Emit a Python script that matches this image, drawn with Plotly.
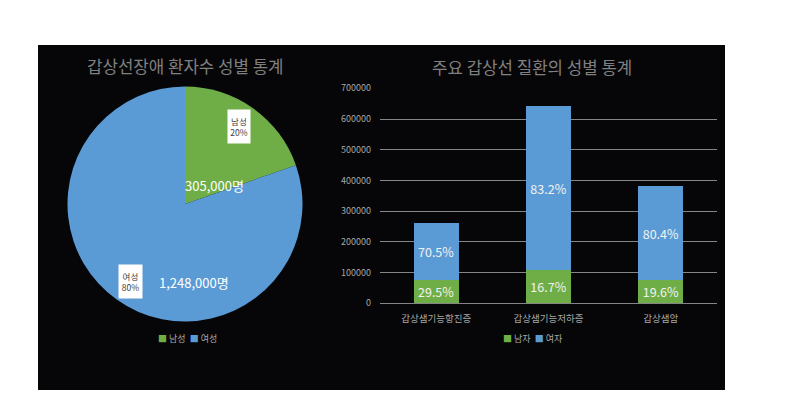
import plotly.graph_objects as go

# pie: patients with thyroid disorder by sex
pie_labels = ["남성", "여성"]
pie_values = [305000, 1248000]

# stacked bars: major thyroid diseases by sex
diseases = ["갑상샘기능항진증", "갑상샘기능저하증", "갑상샘암"]
bar_names = ["남자", "여자"]
male = [77300, 107400, 75000]
female = [184700, 535600, 307000]
male_pct = [29.5, 16.7, 19.6]
female_pct = [70.5, 83.2, 80.4]

GREEN = "#6fae47"
BLUE = "#5b9bd5"
GRID = "#858585"
FONT = "Noto Sans CJK KR"

W, H = 800, 414
OFF = 8  # page body margin in the browser


def px(x):
    return (x - OFF) / W


def py(y):
    return 1 - (y - OFF) / H


def ann(text, x, y, size, color, **kw):
    return dict(text=text, x=px(x), y=py(y), xref="paper", yref="paper",
                xanchor="center", yanchor="middle", showarrow=False,
                font=dict(size=size, color=color, family=FONT), **kw)


fig = go.Figure()

fig.add_trace(go.Pie(
    labels=pie_labels, values=pie_values,
    marker=dict(colors=[GREEN, BLUE], line=dict(width=0)),
    sort=False, direction="clockwise", rotation=0,
    textinfo="none", hoverinfo="label+value+percent",
    domain=dict(x=[px(67.5), px(302.5)], y=[py(321.5), py(86.5)]),
))

for vals, pcts, name, color in [(male, male_pct, bar_names[0], GREEN),
                                (female, female_pct, bar_names[1], BLUE)]:
    fig.add_trace(go.Bar(
        x=diseases, y=vals, name=name, marker=dict(color=color, line=dict(width=0)),
        text=[f"{p}%" for p in pcts], textposition="inside", insidetextanchor="middle",
        constraintext="none", textangle=0,
        textfont=dict(color="#f2f2f2", size=12.5, family=FONT),
    ))

total = sum(pie_values)


def legend_text(names, colors):
    parts = [f"<span style='color:{c}'>■</span> {n}" for n, c in zip(names, colors)]
    return "  ".join(parts)


annotations = [
    ann("갑상선장애 환자수 성별 통계", 185, 66, 16.8, "#808080"),
    ann("주요 갑상선 질환의 성별 통계", 532, 67, 16.8, "#808080"),
    # value labels on the pie
    ann(f"{pie_values[0]:,}명", 215, 185, 13, "#ffffff"),
    ann(f"{pie_values[1]:,}명", 194, 282, 13, "#ffffff"),
    # callout boxes
    ann(f"{pie_labels[0]}<br>{pie_values[0] / total:.0%}", 238.5, 126.5, 8.5, "#404040",
        bgcolor="#ffffff", borderpad=2, width=18, height=29),
    ann(f"{pie_labels[1]}<br>{pie_values[1] / total:.0%}", 130.5, 281, 8.5, "#404040",
        bgcolor="#ffffff", borderpad=2, width=19, height=29),
    # legends
    ann(legend_text(pie_labels, [GREEN, BLUE]), 187, 338, 9, "#a6a6a6"),
    ann(legend_text(bar_names, [GREEN, BLUE]), 533, 338, 9, "#a6a6a6"),
]

fig.update_layout(
    width=W, height=H,
    margin=dict(l=0, r=0, t=0, b=0),
    paper_bgcolor="#ffffff", plot_bgcolor="rgba(0,0,0,0)",
    font=dict(family=FONT, color="#a6a6a6"),
    barmode="stack", bargap=0.6,
    showlegend=False,
    shapes=[dict(type="rect", xref="paper", yref="paper", x0=px(38), x1=px(725),
                 y0=py(390), y1=py(45), fillcolor="#060608", line=dict(width=0), layer="below")],
    xaxis=dict(domain=[px(380), px(717)], showgrid=False, showline=False, zeroline=False,
               ticks="", automargin=False, ticklabelstandoff=8,
               tickfont=dict(size=9.5, color="#a6a6a6")),
    yaxis=dict(domain=[py(303.3), py(88.3)], range=[0, 700000], dtick=100000,
               tickformat="d", showgrid=True, gridcolor=GRID, gridwidth=1,
               zeroline=True, zerolinecolor=GRID, zerolinewidth=1,
               showline=False, ticks="", automargin=False, ticklabelstandoff=8,
               tickfont=dict(size=9, color="#a6a6a6")),
    annotations=annotations,
)

fig.write_html("out.html")
